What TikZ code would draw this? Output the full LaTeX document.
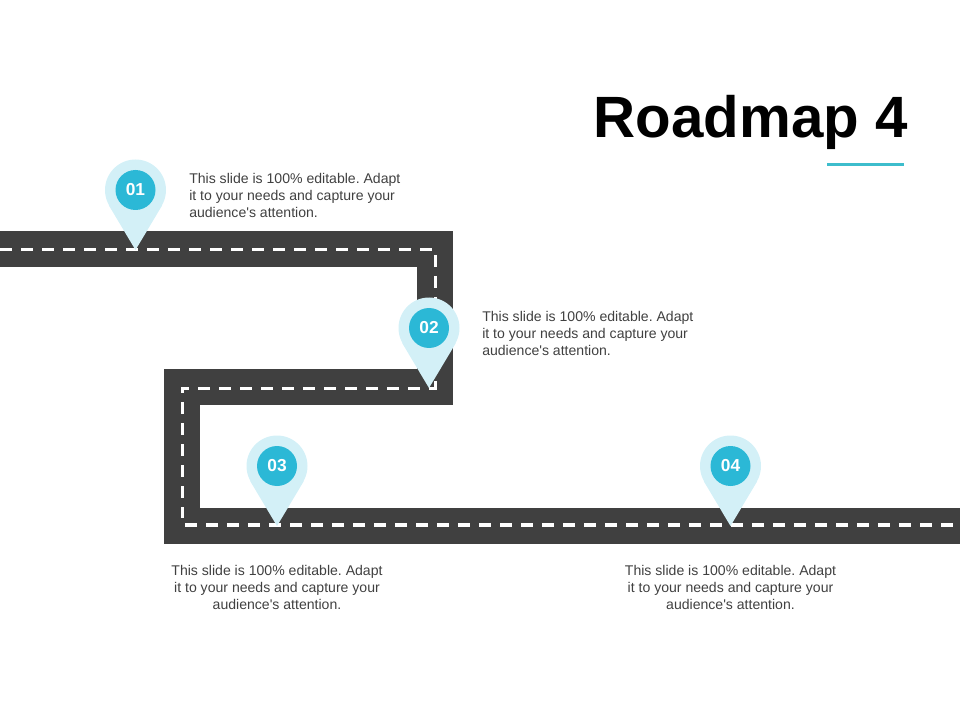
\documentclass[tikz,border=0pt]{standalone}
\usepackage{fontspec}
\setmainfont{Liberation Sans}
\begin{document}
\frenchspacing
\begin{tikzpicture}[x=0.75pt,y=-0.75pt]
\definecolor{roadgrey}{HTML}{404040}
\definecolor{pinblue}{HTML}{2BB8D6}
\definecolor{pinpale}{HTML}{D3F0F7}
\definecolor{ruleteal}{HTML}{3DBDCC}
\tikzstyle{road}=[draw=roadgrey,line width=27pt,miter limit=10]
\tikzstyle{lane}=[draw=white,line width=2.8pt,dash pattern=on 9pt off 6.75pt]
\tikzstyle{pinhead}=[circle,fill=pinpale,inner sep=0pt,minimum size=45.75pt]
\tikzstyle{pinnum}=[circle,fill=pinblue,text=white,inner sep=0pt,minimum size=30pt,font=\bfseries\fontsize{13}{16}\selectfont]
\tikzstyle{note}=[text=roadgrey,inner sep=0pt,font=\fontsize{10.55}{12.75}\selectfont]
\useasboundingbox (0,0) rectangle (960,720);
\coordinate (r1) at (0,249);
\coordinate (r2) at (435,249);
\coordinate (r3) at (435,387);
\coordinate (r4) at (182,387);
\coordinate (r5) at (182,526);
\coordinate (r6) at (960,526);
\draw [road] (r1) -- (r2) -- (r3) -- (r4) -- (r5) -- (r6);
\coordinate (l1) at (0,249.5);
\coordinate (l2) at (432,249.5);
\coordinate (l3) at (435.4,255);
\coordinate (l4) at (435.4,389);
\coordinate (l5) at (182,388.5);
\coordinate (l6) at (437,388.5);
\coordinate (l7) at (182.4,387);
\coordinate (l8) at (182.4,518);
\coordinate (l9) at (185,525);
\coordinate (l10) at (960,525);
\draw [lane] (l1) -- (l2);
\draw [lane] (l3) -- (l4);
\draw [lane,dash phase=3.75pt] (l5) -- (l6);
\draw [lane,dash phase=4.5pt] (l7) -- (l8);
\draw [lane] (l9) -- (l10);
\node [pinhead] (pin1) at (135.5,190) {};
\coordinate (tip1) at (135.5,250);
\fill [pinpale] (tip1) -- (pin1.-30) -- (pin1.center) -- (pin1.210) -- cycle;
\node [pinnum] (num1) at (pin1) {01};
\node [pinhead] (pin2) at (429,328) {};
\coordinate (tip2) at (429,388);
\fill [pinpale] (tip2) -- (pin2.-30) -- (pin2.center) -- (pin2.210) -- cycle;
\node [pinnum] (num2) at (pin2) {02};
\node [pinhead] (pin3) at (277,466) {};
\coordinate (tip3) at (277,526);
\fill [pinpale] (tip3) -- (pin3.-30) -- (pin3.center) -- (pin3.210) -- cycle;
\node [pinnum] (num3) at (pin3) {03};
\node [pinhead] (pin4) at (730.5,466) {};
\coordinate (tip4) at (730.5,526);
\fill [pinpale] (tip4) -- (pin4.-30) -- (pin4.center) -- (pin4.210) -- cycle;
\node [pinnum] (num4) at (pin4) {04};
\node [note,align=left,anchor=west] (note1) at (189,195) {This slide is 100\% editable. Adapt\\it to your needs and capture your\\audience\textquotesingle s attention.};
\node [note,align=left,anchor=west] (note2) at (482,333) {This slide is 100\% editable. Adapt\\it to your needs and capture your\\audience\textquotesingle s attention.};
\node [note,align=center] (note3) at (277,587) {This slide is 100\% editable. Adapt\\it to your needs and capture your\\audience\textquotesingle s attention.};
\node [note,align=center] (note4) at (730.5,587) {This slide is 100\% editable. Adapt\\it to your needs and capture your\\audience\textquotesingle s attention.};
\node [anchor=east,inner sep=0pt,font=\bfseries\fontsize{43.7}{50}\selectfont] (title) at (908,122) {Roadmap 4};
\coordinate (u1) at (827,164.5);
\coordinate (u2) at (904,164.5);
\draw [ruleteal,line width=2.25pt] (u1) -- (u2);
\end{tikzpicture}
\end{document}
